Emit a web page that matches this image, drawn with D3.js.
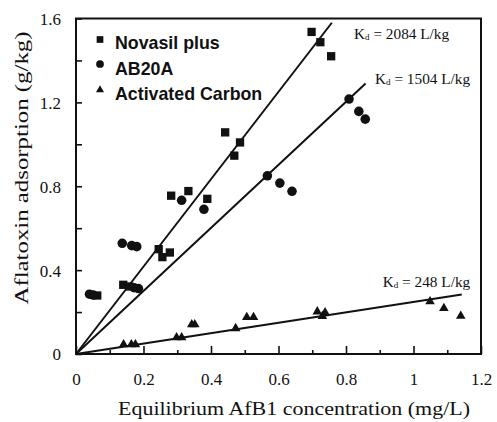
<!DOCTYPE html>
<html><head><meta charset="utf-8">
<script src="https://cdn.jsdelivr.net/npm/d3@7"></script>
<style>body{margin:0;background:#fff}</style>
</head><body>
<svg id="c" width="497" height="422"></svg>
<script>
// ---- data ----
const novasilX = [0.063,0.140,0.158,0.245,0.256,0.278,0.282,0.333,0.389,0.442,0.469,0.486,0.698,0.724,0.756];
const novasilY = [0.279,0.330,0.322,0.500,0.462,0.484,0.755,0.777,0.740,1.057,0.946,1.009,1.536,1.487,1.420];
const ab20aX = [0.040,0.051,0.137,0.165,0.180,0.172,0.185,0.313,0.379,0.567,0.604,0.640,0.809,0.838,0.857];
const ab20aY = [0.285,0.281,0.528,0.517,0.512,0.316,0.312,0.733,0.690,0.850,0.815,0.776,1.216,1.157,1.120];
const carbonX = [0.141,0.164,0.176,0.298,0.313,0.343,0.352,0.473,0.506,0.526,0.715,0.730,0.738,1.049,1.090,1.140];
const carbonY = [0.045,0.045,0.045,0.079,0.079,0.141,0.141,0.122,0.175,0.175,0.202,0.180,0.198,0.250,0.218,0.181];
const seriesNames = ["Novasil plus","AB20A","Activated Carbon"];
const kdValues = [2084,1504,248];          // L/kg -> slope in g/kg per mg/L = Kd/1000
const fitEndX = [0.758,0.858,1.143];
const xTicks = [0,0.2,0.4,0.6,0.8,1,1.2];
const xMinor = [0.1,0.3,0.5,0.7,0.9,1.1];
const yTicks = [0,0.4,0.8,1.2,1.6];
const yMinor = [0.2,0.6,1.0,1.4];

const svg = d3.select("#c");
const L=76, R=481, T=18.5, B=354;
const x = d3.scaleLinear().domain([0,1.2]).range([L,R]);
const y = d3.scaleLinear().domain([0,1.6]).range([B,T]);
const serif = "'Liberation Serif','Times New Roman',serif";
const sans = "'Liberation Sans',Arial,sans-serif";

// axes
const xAxis = svg.append("g").attr("transform",`translate(0,${B})`)
  .call(d3.axisBottom(x).tickValues(xTicks).tickSize(-8).tickPadding(19).tickFormat(d3.format("")));
const xAxisMinor = svg.append("g").attr("transform",`translate(0,${B})`)
  .call(d3.axisBottom(x).tickValues(xMinor).tickSize(-4).tickFormat(""));
const yAxis = svg.append("g").attr("transform",`translate(${L},0)`)
  .call(d3.axisLeft(y).tickValues(yTicks).tickSize(-6).tickPadding(15).tickFormat(d3.format("")));
const yAxisMinor = svg.append("g").attr("transform",`translate(${L},0)`)
  .call(d3.axisLeft(y).tickValues(yMinor).tickSize(-6).tickFormat(""));
[xAxis,xAxisMinor,yAxis,yAxisMinor].forEach(g=>{
  g.select(".domain").remove();
  g.selectAll(".tick line").attr("stroke","#111").attr("stroke-width",1.6);
  g.selectAll("text").attr("font-family",serif).attr("font-size",17).attr("fill","#111");
});
yAxis.selectAll("text").attr("dy","0.35em");

// frame
svg.append("rect").attr("x",L).attr("y",T).attr("width",R-L).attr("height",B-T)
  .attr("fill","none").attr("stroke","#111").attr("stroke-width",2);

// fit lines
kdValues.forEach((kd,i)=>{
  const s = kd/1000;
  svg.append("line").attr("x1",x(0)).attr("y1",y(0)).attr("x2",x(fitEndX[i])).attr("y2",y(s*fitEndX[i]))
    .attr("stroke","#111").attr("stroke-width",2);
});

// points
const sym = [d3.symbolSquare, d3.symbolCircle, d3.symbolTriangle];
const sizes = [69, 72, 40];
const legendSizes = [45, 47, 28];
const data = [[novasilX,novasilY],[ab20aX,ab20aY],[carbonX,carbonY]];
data.forEach(([xs,ys],i)=>{
  svg.append("g").selectAll("path").data(xs).join("path")
    .attr("transform",(d,j)=>`translate(${x(d)},${y(ys[j])})`)
    .attr("d",d3.symbol().type(sym[i]).size(sizes[i])())
    .attr("fill","#111");
});

// legend
const legY = [39.5, 64, 90];
const legTextY = [48.5, 75, 100];
seriesNames.forEach((n,i)=>{
  svg.append("path").attr("transform",`translate(100,${legY[i]})`)
    .attr("d",d3.symbol().type(sym[i]).size(legendSizes[i])()).attr("fill","#111");
  svg.append("text").attr("x",115).attr("y",legTextY[i]).text(n)
    .attr("font-family",sans).attr("font-weight","bold").attr("font-size",17.8).attr("fill","#111");
});

// Kd annotations
const kdPos = [[354,39.3],[375,84],[382.7,286.7]];
kdValues.forEach((kd,i)=>{
  const t = svg.append("text").attr("x",kdPos[i][0]).attr("y",kdPos[i][1])
    .attr("font-family",serif).attr("font-size",15.3).attr("fill","#111");
  t.append("tspan").text("K");
  t.append("tspan").text("d").attr("font-size",9).attr("dy",1);
  t.append("tspan").text(" = "+kd+" L/kg").attr("dy",-1);
});

// axis titles
svg.append("text").attr("x",118).attr("y",415).text("Equilibrium AfB1 concentration (mg/L)")
  .attr("font-family",serif).attr("font-size",19).attr("fill","#111")
  .attr("textLength",352).attr("lengthAdjust","spacingAndGlyphs");
svg.append("text").attr("transform","translate(28,168) rotate(-90)").attr("text-anchor","middle")
  .text("Aflatoxin adsorption (g/kg)")
  .attr("font-family",serif).attr("font-size",19).attr("fill","#111")
  .attr("textLength",273).attr("lengthAdjust","spacingAndGlyphs");
</script>
</body></html>
